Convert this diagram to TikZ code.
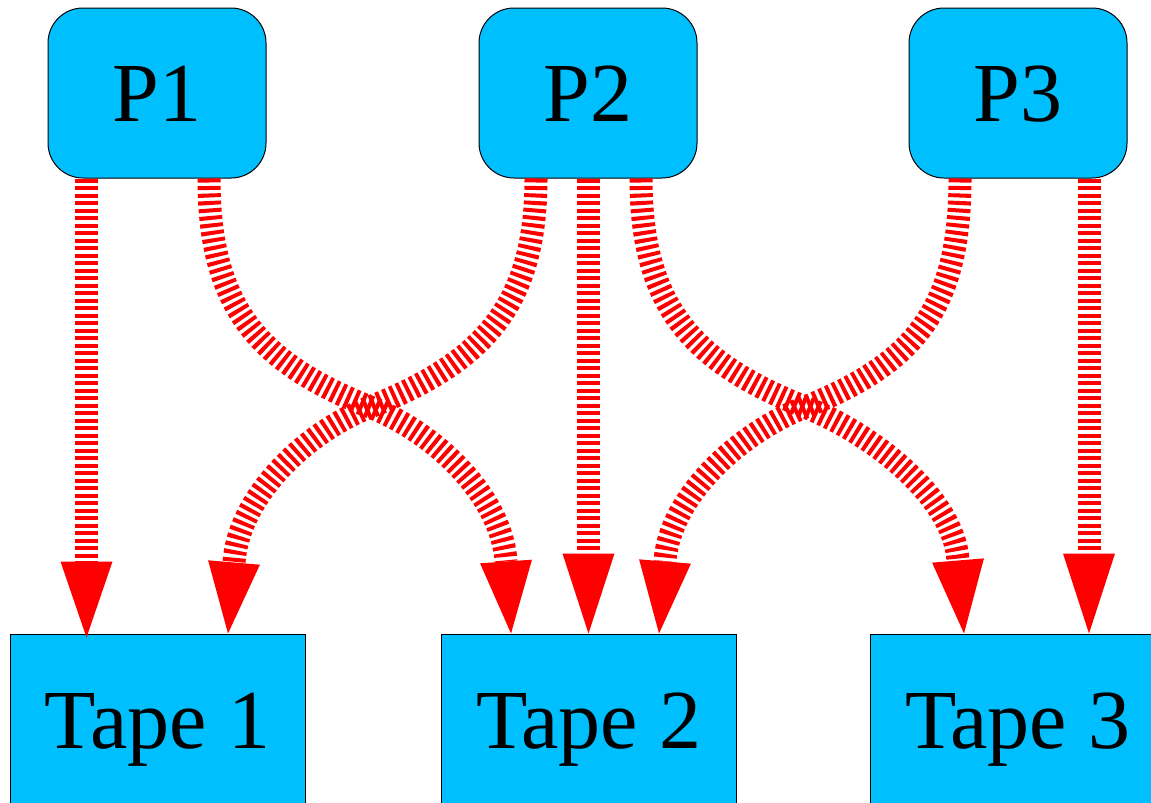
\documentclass[tikz,border=0pt]{standalone}
\usepackage{fontspec}
\setmainfont{Liberation Serif}
\usetikzlibrary{calc}
\definecolor{boxblue}{RGB}{0,191,255}
\tikzset{
  box/.style={draw=black, line width=1pt, fill=boxblue, inner sep=0pt,
    font=\fontsize{84}{100}\selectfont, text height=57pt, text depth=0pt},
  pbox/.style={box, rounded corners=35pt, minimum width=218pt, minimum height=170pt},
  tbox/.style={box, minimum width=295pt, minimum height=172pt},
  edge/.style={draw=red, line width=23pt, dash pattern=on 4pt off 3.5pt},
  headfill/.style={fill=red}
}
\newcommand{\arrowhead}[2]{\fill[headfill] (#2) -- ($(#1)!26pt!90:(#2)$) -- ($(#1)!26pt!-90:(#2)$) -- cycle;}
\begin{document}
\begin{tikzpicture}[x=1pt,y=-1pt]
\useasboundingbox (0,0) rectangle (1151,803);
\clip (0,0) rectangle (1151,803);
\fill[white] (0,0) rectangle (1151,803);

\node[pbox] (P1) at (157,93) {P1};
\node[pbox] (P2) at (588,93) {P2};
\node[pbox] (P3) at (1018,93) {P3};
\node[tbox] (T1) at (157.5,720) {Tape 1};
\node[tbox] (T2) at (588.5,720) {Tape 2};
\node[tbox] (T3) at (1017.5,720) {Tape 3};

% start points
\coordinate (s11) at ($(P1.south)+(-70.5,0)$);
\coordinate (s12) at ($(P1.south)+(52,0)$);
\coordinate (s21) at ($(P2.south)+(-52,0)$);
\coordinate (s22) at ($(P2.south)+(0.5,0)$);
\coordinate (s23) at ($(P2.south)+(53,0)$);
\coordinate (s32) at ($(P3.south)+(-58,0)$);
\coordinate (s33) at ($(P3.south)+(71,0)$);
% crossings
\coordinate (xa) at (370,407);
\coordinate (xb) at (805,407);
% tips
\coordinate (t11) at ($(T1.north)+(-71,4)$);
\coordinate (t21) at ($(T1.north)+(70.5,0)$);
\coordinate (t12) at ($(T2.north)+(-77.5,0)$);
\coordinate (t22) at ($(T2.north)+(0,0)$);
\coordinate (t32) at ($(T2.north)+(70.5,0)$);
\coordinate (t23) at ($(T3.north)+(-53.5,0)$);
\coordinate (t33) at ($(T3.north)+(71.5,0)$);
% bases
\coordinate (b11) at ($(t11)+(0,-76)$);
\coordinate (b21) at ($(t21)+(6,-71)$);
\coordinate (b12) at ($(t12)+(-5,-72)$);
\coordinate (b22) at ($(t22)+(0,-80)$);
\coordinate (b32) at ($(t32)+(6,-72)$);
\coordinate (b23) at ($(t23)+(-6,-73)$);
\coordinate (b33) at ($(t33)+(0,-80)$);

% straight edges
\draw[edge] (s11) -- (b11);
\draw[edge] (s22) -- (b22);
\draw[edge] (s33) -- (b33);
% curved edges
\draw[edge] (s12) .. controls +(0,130) and +(-110,-44) .. (xa)
  .. controls +(70,28) and +(-4,-62) .. (b12);
\draw[edge] (s21) .. controls +(0,130) and +(110,-44) .. (xa)
  .. controls +(-70,28) and +(4,-62) .. (b21);
\draw[edge] (s23) .. controls +(0,130) and +(-110,-44) .. (xb)
  .. controls +(70,28) and +(-4,-62) .. (b23);
\draw[edge] (s32) .. controls +(0,130) and +(110,-44) .. (xb)
  .. controls +(-70,28) and +(4,-62) .. (b32);

\arrowhead{b11}{t11}
\arrowhead{b21}{t21}
\arrowhead{b12}{t12}
\arrowhead{b22}{t22}
\arrowhead{b32}{t32}
\arrowhead{b23}{t23}
\arrowhead{b33}{t33}
\end{tikzpicture}
\end{document}
